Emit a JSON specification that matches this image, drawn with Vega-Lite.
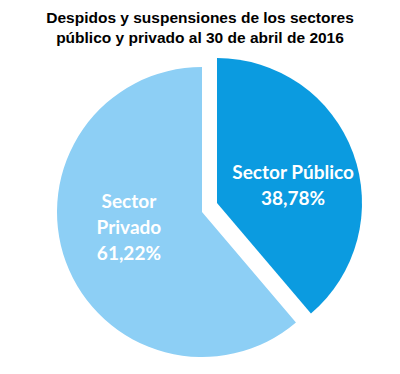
{
  "$schema": "https://vega.github.io/schema/vega-lite/v6.json",
  "autosize": "none",
  "width": 396,
  "height": 324,
  "padding": {"left": 4, "top": 50, "right": 0, "bottom": 0},
  "background": "white",
  "view": {"stroke": null},
  "title": {
    "text": ["Despidos y suspensiones de los sectores", "público y privado al 30 de abril de 2016"],
    "anchor": "middle",
    "frame": "group",
    "font": "Liberation Sans",
    "fontSize": 15.5,
    "fontWeight": "bold",
    "color": "#000000",
    "lineHeight": 20,
    "offset": 4,
    "dx": -2
  },
  "data": {
    "values": [
      {"sector": "Sector Público", "porcentaje": 38.78, "orden": 1, "etiqueta": "Sector Público\n38,78%"},
      {"sector": "Sector Privado", "porcentaje": 61.22, "orden": 2, "etiqueta": "Sector\nPrivado\n61,22%"}
    ]
  },
  "encoding": {
    "theta": {"field": "porcentaje", "type": "quantitative", "stack": true},
    "order": {"field": "orden", "type": "quantitative"}
  },
  "layer": [
    {
      "mark": {"type": "arc", "radius": 145},
      "encoding": {
        "color": {"field": "sector", "type": "nominal", "scale": {"domain": ["Sector Público", "Sector Privado"], "range": ["#0B9BE0", "#8DCFF5"]}, "legend": null},
        "opacity": {"condition": {"test": "datum.sector === 'Sector Privado'", "value": 1}, "value": 0}
      }
    },
    {
      "mark": {"type": "arc", "radius": 145, "xOffset": 15, "yOffset": -9},
      "encoding": {
        "color": {"field": "sector", "type": "nominal", "legend": null},
        "opacity": {"condition": {"test": "datum.sector === 'Sector Público'", "value": 1}, "value": 0}
      }
    },
    {
      "mark": {"type": "text", "radius": 80, "dx": 16, "dy": -11, "font": "Lato", "fontWeight": "bold", "fontSize": 19, "lineHeight": 26, "color": "white", "baseline": "middle", "align": "center", "lineBreak": "\n"},
      "encoding": {
        "text": {"condition": {"test": "datum.sector === 'Sector Público'", "field": "etiqueta"}, "value": ""}
      }
    },
    {
      "mark": {"type": "text", "radius": 80, "dx": 2, "dy": -38, "font": "Lato", "fontWeight": "bold", "fontSize": 19, "lineHeight": 26, "color": "white", "baseline": "middle", "align": "center", "lineBreak": "\n"},
      "encoding": {
        "text": {"condition": {"test": "datum.sector === 'Sector Privado'", "field": "etiqueta"}, "value": ""}
      }
    }
  ]
}
